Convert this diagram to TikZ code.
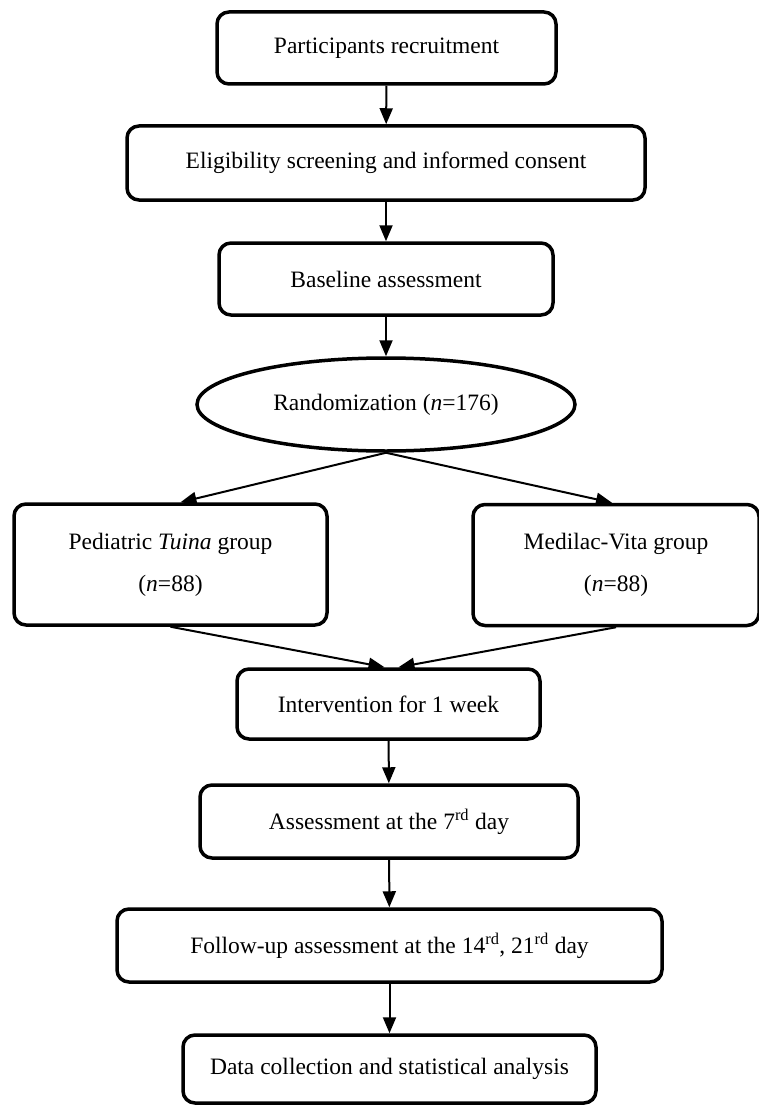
\documentclass[tikz,border=0pt]{standalone}
\usepackage{fontspec}
\setmainfont{Liberation Serif}
\usepackage{tikz}
\usetikzlibrary{positioning, shapes.geometric, arrows.meta, calc}

\tikzset{
  stagebox/.style={draw, line width=3.5pt, rounded corners=12pt, align=center,
    inner sep=0pt, font=\fontsize{23.5}{42}\selectfont},
  flowarrow/.style={line width=2pt, -{Triangle[length=16pt,width=13pt]}}
}

\begin{document}
\begin{tikzpicture}[x=1pt, y=-1pt]
    \useasboundingbox (0,0) rectangle (759,1105);

    % Stages of the trial
    \node[stagebox, minimum width=339pt, minimum height=72pt] (recruit) at (386.5,48) {Participants recruitment};
    \node[stagebox, minimum width=518pt, minimum height=74pt] (elig) at (386,163) {Eligibility screening and informed consent};
    \node[stagebox, minimum width=334pt, minimum height=72pt] (base) at (386,279) {Baseline assessment};
    \node[stagebox, ellipse, rounded corners=0pt, minimum width=378pt, minimum height=93pt] (rand) at (386,404.5) {Randomization (\textit{n}=176)};

    % Two groups
    \node[stagebox, minimum width=313pt, minimum height=121pt] (tuina) at (170.5,564.5) {Pediatric \textit{Tuina} group\\(\textit{n}=88)};
    \node[stagebox, minimum width=286pt, minimum height=121pt] (vita) at (616,565) {Medilac-Vita group\\(\textit{n}=88)};

    \node[stagebox, minimum width=303pt, minimum height=70pt] (interv) at (388.5,704) {Intervention for 1 week};
    \node[stagebox, minimum width=378pt, minimum height=73pt] (day7) at (389,821.5) {Assessment at the 7\textsuperscript{rd} day};
    \node[stagebox, minimum width=545pt, minimum height=73pt] (follow) at (389.5,945.5) {Follow-up assessment at the 14\textsuperscript{rd}, 21\textsuperscript{rd} day};
    \node[stagebox, minimum width=413pt, minimum height=68pt] (data) at (389.5,1069) {Data collection and statistical analysis};

    % Connectors
    \draw[flowarrow] (recruit) -- (elig);
    \draw[flowarrow] (elig) -- (base);
    \draw[flowarrow] (base) -- (rand);
    \draw[flowarrow] (rand.south) -- ($(tuina.north)+(10,0)$);
    \draw[flowarrow] (rand.south) -- ($(vita.north)+(-4,0)$);
    \draw[flowarrow] (tuina.south) -- ($(interv.north)+(-4,0)$);
    \draw[flowarrow] (vita.south) -- ($(interv.north)+(10,0)$);
    \draw[flowarrow] (interv) -- (day7);
    \draw[flowarrow] (day7) -- (follow);
    \draw[flowarrow] (follow) -- (data);

\end{tikzpicture}
\end{document}
